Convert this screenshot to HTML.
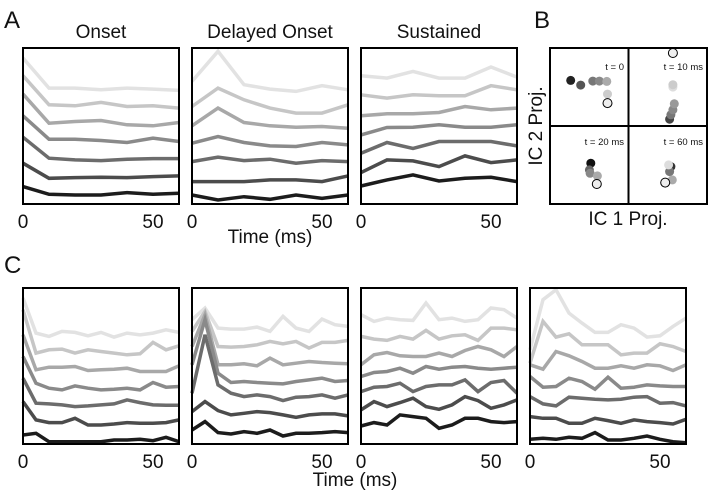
<!DOCTYPE html>
<html><head><meta charset="utf-8"><style>
html,body{margin:0;padding:0;background:#fff;}
svg{display:block;font-family:"Liberation Sans",Arial,sans-serif;}
</style></head><body>
<svg id="fig" width="715" height="495" viewBox="0 0 715 495"></svg>
<script>
// ---- Data (arbitrary projection units) ----
const tA = [0,10,20,30,40,50,60];
const tC = [0,5,10,15,20,25,30,35,40,45,50,55,60];
const onset = [
[175,265,265,270,265,268,272],[228,315,318,308,320,318,325],[283,370,365,362,375,378,368],
[348,418,418,422,428,415,425],[412,475,480,482,478,476,476],[490,535,533,532,533,530,528],[560,583,585,585,578,583,580]];
const delayed = [
[245,155,255,268,275,258,270],[320,265,300,325,340,340,315],[378,325,368,378,382,380,385],
[430,410,428,438,440,428,435],[485,472,482,478,490,482,485],[545,545,545,540,540,545,528],[585,600,590,598,585,595,585]];
const sustained = [
[228,235,215,235,235,202,232],[285,295,285,288,288,258,270],[348,342,342,338,320,330,325],
[405,383,382,375,382,382,375],[460,428,446,425,425,425,438],[518,480,483,500,468,488,480],[558,540,525,543,535,532,545]];
const c1 = [
[145,250,260,245,248,258,248,262,250,255,250,240,248],[180,310,300,298,310,300,305,310,315,312,278,300,288],
[255,360,352,352,350,362,360,358,355,365,365,365,348],[320,400,415,420,408,415,420,418,415,420,398,412,410],
[385,460,462,465,470,468,465,462,450,458,465,466,466],[455,510,518,518,505,525,525,522,518,520,520,518,510],
[555,550,575,575,575,575,575,570,570,568,572,562,575]];
const c2 = [
[210,175,235,238,238,232,245,200,235,245,208,225,230],[245,185,290,292,290,285,275,282,275,295,278,278,272],
[290,195,345,345,342,348,325,345,340,335,338,340,342],[345,210,370,398,395,398,400,402,395,390,385,395,392],
[430,255,405,430,440,435,440,452,442,440,435,445,435],[485,455,482,495,490,485,488,495,502,495,492,492,498],
[540,515,548,552,545,550,540,558,550,550,548,545,548]];
const c3 = [
[195,215,205,210,212,160,210,205,215,210,175,180,205],[260,268,272,260,268,242,268,258,255,272,235,235,240],
[345,315,308,318,320,320,310,320,302,290,300,320,290],[380,368,365,355,370,350,358,352,350,355,358,355,352],
[425,412,410,400,425,410,405,405,390,425,398,392,430],[480,455,470,458,445,470,478,465,440,452,475,465,450],
[528,518,525,495,500,505,535,525,505,505,515,518,515]];
const c4 = [
[300,150,120,190,220,248,248,225,235,262,258,230,205],[340,215,262,252,285,285,285,315,310,310,282,290,305],
[345,358,305,318,335,355,355,348,355,345,348,362,345],[380,412,410,385,395,418,382,415,412,405,408,410,410],
[440,462,468,442,445,448,450,448,442,440,460,458,468],[500,505,505,520,520,505,512,520,510,515,518,522,508],
[568,565,568,562,565,548,570,570,565,558,568,575,578]];
const tickLabels = [0,50];
// scatter (IC1, IC2 projection units)
const scatterX = [[662,692,728,748,770,772,772],[958,962,968,972,968,968,968],[722,718,720,742,740],[962,958,955,966,945]];
const scatterY = [[242,256,244,244,245,283,310],[358,345,330,312,262,255,160],[490,510,520,528,552],[500,515,495,540,548]];
const scatterFill = [["#222","#555","#777","#888","#aaa","#ccc","#eee"],["#444","#777","#888","#999","#ddd","#ccc","#eee"],["#111","#666","#888","#aaa","#eee"],["#333","#777","#ddd","#aaa","#eee"]];
const tLabels = ["t = 0","t = 10 ms","t = 20 ms","t = 60 ms"];
const grays = ["#e2e2e2","#c6c6c6","#a8a8a8","#8a8a8a","#6c6c6c","#4c4c4c","#1c1c1c"];

const NS="http://www.w3.org/2000/svg";
const svg=document.getElementById('fig');
function mk(tag,attrs,parent){const e=document.createElementNS(NS,tag);for(const k in attrs)e.setAttribute(k,attrs[k]);(parent||svg).appendChild(e);return e;}
function txt(s,x,y,size,anchor,name){const e=mk('text',{x:x,y:y,'font-size':size,'text-anchor':anchor||'middle',fill:'#111'});e.textContent=s;


return e;}
function lin(d0,d1,r0,r1){return v=>r0+(v-d0)/(d1-d0)*(r1-r0);}

function panel(x0,y0,w,h,xs,series,yd0,yd1,name,title){
  const g=mk('g',{});
  
  
  const sx=lin(0,60,x0,x0+w), sy=lin(yd0,yd1,y0+h,y0);
  series.forEach((s,i)=>{
    const pts=s.map((v,j)=>sx(xs[j]).toFixed(1)+','+sy(v).toFixed(1)).join(' ');
    const p=mk('polyline',{points:pts,fill:'none',stroke:grays[i],'stroke-width':3.5,'stroke-linejoin':'miter'},g);
    
    
  });
  const r=mk('rect',{x:x0,y:y0,width:w,height:h,fill:'none',stroke:'#000','stroke-width':2},g);
  
  
  tickLabels.forEach(t=>{txt(String(t),sx(t),y0+h+24,19,'middle','x-tick-label');});
  if(title) txt(title,x0+w/2,y0-10,19,'middle','panel-title');
}
panel(23,48,156,156,tA,onset,612,145,'onset-panel','Onset');
panel(192,48,156,156,tA,delayed,612,145,'delayed-onset-panel','Delayed Onset');
panel(361,48,156,156,tA,sustained,612,145,'sustained-panel','Sustained');
txt('Time (ms)',270,243,19,'middle','x-axis-title-a');
panel(23,288,156,156,tC,c1,582,115,'c-panel-1');
panel(192,288,156,156,tC,c2,582,115,'c-panel-2');
panel(361,288,156,156,tC,c3,582,115,'c-panel-3');
panel(530,288,156,156,tC,c4,582,115,'c-panel-4');
txt('Time (ms)',355,486,19,'middle','x-axis-title-c');
txt('A',4,28,24,'start','label-a');
txt('B',534,28,24,'start','label-b');
txt('C',4,273,24,'start','label-c');

// Panel B scatter
const bx=lin(600,1070,550,707), by=lin(145,612,48,204);
const bg=mk('g',{});


scatterX.forEach((xs,q)=>{
  xs.forEach((v,i)=>{
    const last=i===xs.length-1;
    const c=mk('circle',{cx:bx(v).toFixed(1),cy:by(scatterY[q][i]).toFixed(1),r:4.5,fill:scatterFill[q][i],stroke:last?'#000':'none','stroke-width':1},bg);
    
    
  });
});
const br=mk('rect',{x:550,y:48,width:157,height:156,fill:'none',stroke:'#000','stroke-width':2});


mk('line',{x1:628.5,y1:48,x2:628.5,y2:204,stroke:'#000','stroke-width':2});
mk('line',{x1:550,y1:126,x2:707,y2:126,stroke:'#000','stroke-width':2});
txt(tLabels[0],624,70,9.5,'end','t-label');
txt(tLabels[1],703,70,9.5,'end','t-label');
txt(tLabels[2],624,145,9.5,'end','t-label');
txt(tLabels[3],703,145,9.5,'end','t-label');
txt('IC 1 Proj.',628,225,19,'middle','x-axis-title-b');
const yl=txt('IC 2 Proj.',0,0,19,'middle','y-axis-title-b');
yl.setAttribute('transform','translate(542,126) rotate(-90)');
</script>
</body></html>
